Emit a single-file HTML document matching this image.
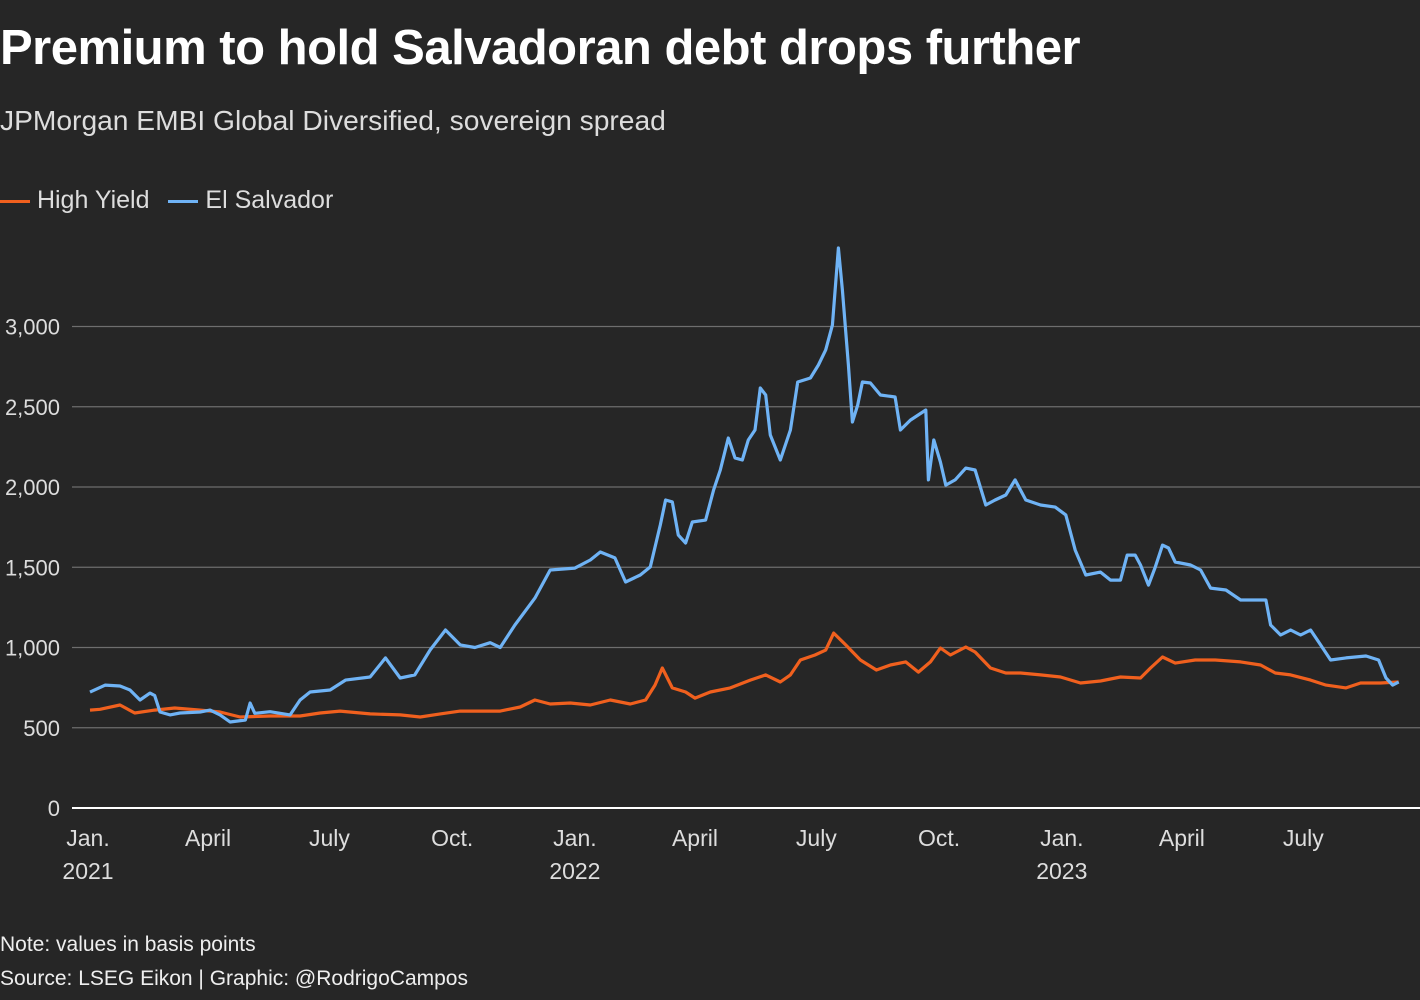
<!DOCTYPE html>
<html><head><meta charset="utf-8"><style>
body{margin:0;background:#262626;width:1420px;height:1000px;overflow:hidden;font-family:"Liberation Sans",sans-serif;color:#fff}
.t{position:absolute;left:0;white-space:nowrap}
</style></head><body>
<div class="t" style="top:20px;font-size:49px;font-weight:bold;letter-spacing:-0.5px">Premium to hold Salvadoran debt drops further</div>
<div class="t" style="top:104px;font-size:28.2px;color:#ddd">JPMorgan EMBI Global Diversified, sovereign spread</div>
<div class="t" style="top:186px;font-size:25px;color:#ddd">
<span><span style="display:inline-block;width:30px;height:3px;background:#f0601e;vertical-align:middle"></span> High Yield</span>
<span style="margin-left:12px"><span style="display:inline-block;width:30px;height:3px;background:#6fb3f5;vertical-align:middle"></span> El Salvador</span></div>
<div class="t" style="top:933px;font-size:21px;color:#eee">Note: values in basis points</div>
<div class="t" style="top:967px;font-size:21px;color:#eee">Source: LSEG Eikon | Graphic: @RodrigoCampos</div>
<svg id="c" width="1420" height="1000" style="position:absolute;left:0;top:0"></svg>
<script>
const yTicks=[0,500,1000,1500,2000,2500,3000];
const yTickLabels=["0","500","1,000","1,500","2,000","2,500","3,000"];
const xTickDays=[0,90,181,273,365,455,546,638,730,820,911];
const xTickLabels=["Jan.","April","July","Oct.","Jan.","April","July","Oct.","Jan.","April","July"];
const xTickYears=["2021","","","","2022","","","","2023","",""];
const esDays=[1.5,13,24,31.5,39,46.5,50,54,61.5,69,84,91.5,99,106.5,118,121.5,125,136.5,151.5,159,166.5,181.5,193,211.5,223,234,245,256.5,268,279,290,301.5,309,320,335,346.5,365,376.5,384,395,403,414,421.5,429,433,438,442.5,448,453,463,469,474,480,485,490.5,495,500,504,508,511.5,519,526.5,532,541.5,547.5,553,558,562.5,565.5,570,573,577,580.5,586.5,594,605,609,616.5,628,630,634,639,643,650,658,665,673,680,688,695,703,714,725,733,740,748,759,766.5,774,779,785,789,795,800,805.5,810,815,826.5,834,841.5,853,864,883,886.5,894,901.5,909,916.5,924,931.5,943,958,967.5,973,978,982.5];
const esVals=[722,766,760,735,673,716,700,598,580,592,598,610,580,536,548,654,590,600,580,673,723,735,797,816,935,810,829,985,1109,1016,1000,1030,1000,1140,1308,1483,1495,1545,1595,1558,1408,1452,1502,1763,1919,1907,1700,1651,1782,1794,1981,2106,2305,2181,2168,2293,2355,2617,2573,2324,2168,2355,2654,2679,2760,2854,3009,3489,3227,2760,2405,2511,2654,2648,2573,2561,2355,2417,2480,2044,2293,2156,2012,2044,2118,2106,1888,1919,1950,2044,1919,1888,1875,1826,1607,1452,1470,1420,1420,1576,1576,1514,1389,1500,1638,1620,1533,1514,1483,1370,1358,1296,1296,1140,1078,1109,1078,1109,1016,922,935,947,922,810,766,785];
const hyDays=[1.5,9,24,35,50,65,84,99,114,136.5,159,174,189,211.5,234,249,264,279,309,324,335,346.5,361.5,376.5,391.5,406.5,418,425,430.5,438,448,455,466.5,481.5,496.5,508,519,526.5,534,545,553,559,568,579,591,601.5,613,622.5,631.5,639,646.5,658,665,676.5,688,699,714,729,744,759,774,789,796.5,805.5,815,830,845,864,879,890,901.5,916.5,928,943,954,969,982.5];
const hyVals=[610,615,642,592,610,623,610,598,567,573,573,592,604,586,580,567,586,604,604,629,673,648,654,642,673,648,673,766,872,748,723,685,723,748,797,829,785,829,922,953,984,1090,1016,922,860,891,910,847,910,997,953,1003,972,872,841,841,829,816,779,791,816,810,872,941,903,922,922,910,891,841,829,797,766,748,779,779,785];
const NS='http://www.w3.org/2000/svg',svg=document.getElementById('c');
const X=d=>88+d*1.334, Y=v=>808-v*0.1605;
function mk(t,a){const e=document.createElementNS(NS,t);for(const k in a)e.setAttribute(k,a[k]);svg.appendChild(e);return e;}
yTicks.forEach((v,i)=>{
 if(v>0){const g=mk('line',{x1:72,x2:1420,y1:Y(v),y2:Y(v),stroke:'#6e6e6e','stroke-width':1.3});
 
 }
 const t=mk('text',{x:60,y:Y(v)+8,'text-anchor':'end','font-size':22,fill:'#ddd','font-family':'Liberation Sans'});
 
 
 t.textContent=yTickLabels[i];
});
const base=mk('line',{x1:72,x2:1420,y1:808,y2:808,stroke:'#fff','stroke-width':2});


xTickDays.forEach((d,i)=>{
 const t=mk('text',{x:X(d),y:846,'text-anchor':'middle','font-size':23,fill:'#ddd','font-family':'Liberation Sans'});
 
 
 t.textContent=xTickLabels[i];
 if(xTickYears[i]){const y=mk('text',{x:X(d),y:879,'text-anchor':'middle','font-size':23,fill:'#ddd','font-family':'Liberation Sans'});
 
 
 y.textContent=xTickYears[i];}
});
function line(days,vals,col,name){
 const p=mk('path',{d:days.map((d,i)=>(i?'L':'M')+X(d).toFixed(1)+','+Y(vals[i]).toFixed(1)).join(''),fill:'none',stroke:col,'stroke-width':3.2,'stroke-linejoin':'round'});
 
 
}
line(hyDays,hyVals,'#f0601e','high-yield-line');
line(esDays,esVals,'#6fb3f5','el-salvador-line');
</script>
</body></html>
